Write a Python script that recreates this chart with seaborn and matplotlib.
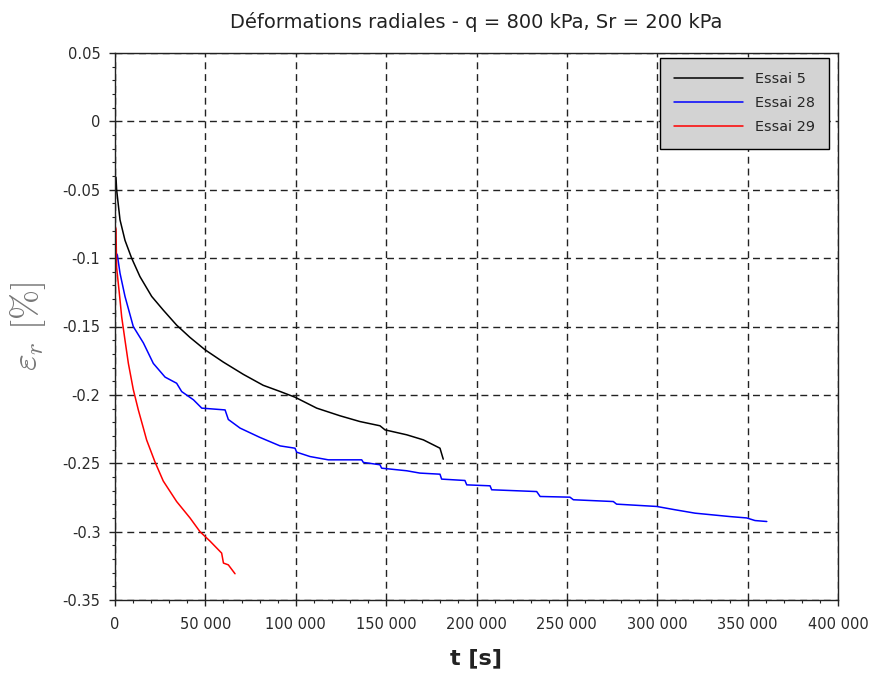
import numpy as np
import pandas as pd
import matplotlib
matplotlib.use("Agg")
import matplotlib.pyplot as plt
import seaborn as sns
from matplotlib.ticker import MultipleLocator, FixedLocator, FixedFormatter

# ---------------- data ----------------
t_essai5 = [0, 550, 900, 2770, 5530, 9200, 13800, 20300, 26700, 34100, 41500, 49800,
            59900, 71000, 82000, 91300, 99600, 111600, 124500, 135500, 146600, 149400,
            161400, 170600, 179800, 181600]
e_essai5 = [-0.040, -0.041, -0.050, -0.072, -0.087, -0.100, -0.1135, -0.128, -0.138, -0.149,
            -0.158, -0.167, -0.176, -0.185, -0.193, -0.1975, -0.2017, -0.2097, -0.2153,
            -0.2195, -0.2226, -0.2256, -0.2292, -0.2329, -0.2390, -0.2470]

t_essai28 = [0, 1300, 2770, 5530, 10100, 15700, 21200, 27700, 34100, 36900, 43400, 48000,
             60900, 62700, 69200, 80000, 91300, 99600, 100500, 107900, 118000, 136500,
             137400, 146600, 147500, 161400, 168700, 179800, 180700, 193600, 194600,
             207500, 208400, 233300, 235200, 251700, 253600, 275700, 277500, 299700,
             309800, 320900, 340300, 349500, 354100, 360600]
e_essai28 = [-0.095, -0.0977, -0.111, -0.128, -0.150, -0.162, -0.177, -0.187, -0.1915,
             -0.1976, -0.2036, -0.2097, -0.211, -0.218, -0.2243, -0.231, -0.2373, -0.239,
             -0.2419, -0.2451, -0.2475, -0.2475, -0.2494, -0.2511, -0.2536, -0.2555,
             -0.2572, -0.2580, -0.2616, -0.2626, -0.2658, -0.2665, -0.2694, -0.2707,
             -0.2743, -0.2748, -0.2767, -0.2780, -0.2799, -0.2816, -0.2840, -0.2865,
             -0.2890, -0.2900, -0.2919, -0.2926]

t_essai29 = [0, 550, 900, 2400, 3700, 5530, 7400, 10100, 12900, 15700, 17500, 22100,
             26700, 34100, 41500, 47000, 52600, 59000, 60000, 62700, 66400]
e_essai29 = [-0.076, -0.079, -0.107, -0.1257, -0.143, -0.160, -0.177, -0.196, -0.211,
             -0.2243, -0.233, -0.249, -0.263, -0.278, -0.290, -0.300, -0.307, -0.3157,
             -0.323, -0.3243, -0.3308]

series_names = ["Essai 5", "Essai 28", "Essai 29"]
series_colors = ["#000000", "#0000ff", "#ff0000"]

x_ticks = [0, 50000, 100000, 150000, 200000, 250000, 300000, 350000, 400000]
x_ticklabels = ["0", "50 000", "100 000", "150 000", "200 000", "250 000",
                "300 000", "350 000", "400 000"]
y_ticks = [0.05, 0, -0.05, -0.1, -0.15, -0.2, -0.25, -0.3, -0.35]
y_ticklabels = ["0.05", "0", "-0.05", "-0.1", "-0.15", "-0.2", "-0.25", "-0.3", "-0.35"]

title = "Déformations radiales - q = 800 kPa, Sr = 200 kPa"

# ---------------- plot ----------------
sns.set_theme(style="white")
plt.rcParams["font.family"] = ["DejaVu Sans"]
plt.rcParams["mathtext.fontset"] = "cm"

fig = plt.figure(figsize=(8.7, 6.82), dpi=100)
ax = fig.add_axes([115 / 870, 1 - 600 / 682, (838 - 115) / 870, (600 - 53) / 682])

frames = []
for name, t, e in zip(series_names, [t_essai5, t_essai28, t_essai29],
                      [e_essai5, e_essai28, e_essai29]):
    frames.append(pd.DataFrame({"t": t, "eps": e, "serie": name}))
df = pd.concat(frames, ignore_index=True)

sns.lineplot(data=df, x="t", y="eps", hue="serie", hue_order=series_names,
             palette=series_colors, estimator=None, sort=False, lw=1.1, ax=ax)

ax.set_xlim(0, 400000)
ax.set_ylim(-0.35, 0.05)
ax.xaxis.set_major_locator(FixedLocator(x_ticks))
ax.xaxis.set_major_formatter(FixedFormatter(x_ticklabels))
ax.yaxis.set_major_locator(FixedLocator(y_ticks))
ax.yaxis.set_major_formatter(FixedFormatter(y_ticklabels))
ax.xaxis.set_minor_locator(MultipleLocator(10000))
ax.yaxis.set_minor_locator(MultipleLocator(0.01))

ax.tick_params(axis="both", which="major", direction="out", length=4, width=1,
               color="#222222", labelsize=10.5, labelcolor="#2a2a2a", pad=6.5,
               bottom=True, left=True)
ax.tick_params(axis="both", which="minor", direction="out", length=2.5, width=0.8,
               color="#222222", bottom=True, left=True)
ax.tick_params(axis="x", which="major", pad=8)

ax.grid(True, which="major", color="#222222", linestyle=(0, (5, 3.5)), linewidth=1.0)
for s in ax.spines.values():
    s.set_visible(True)
    s.set_color("#222222")
    s.set_linewidth(1.0)

ax.set_title(title, fontsize=14, color="#222222", pad=18)
ax.set_xlabel("t [s]", fontsize=16, fontweight="bold", color="#222222", labelpad=12)
ax.set_ylabel(r"$\varepsilon_r\ [\%]$", fontsize=26, color="#777777", labelpad=10)

leg = ax.legend(loc="upper right", bbox_to_anchor=((829 - 115) / 723, 1 - 5 / 547),
                borderaxespad=0, fontsize=10.4, frameon=True, fancybox=False,
                handlelength=4.75, handletextpad=0.8, labelspacing=0.69,
                borderpad=1.0)
leg.get_frame().set_facecolor("#d3d3d3")
leg.get_frame().set_edgecolor("#000000")
leg.get_frame().set_linewidth(1.0)
leg.get_frame().set_alpha(1.0)
for line in leg.get_lines():
    line.set_linewidth(1.1)

fig.savefig("out.png", dpi=100)
